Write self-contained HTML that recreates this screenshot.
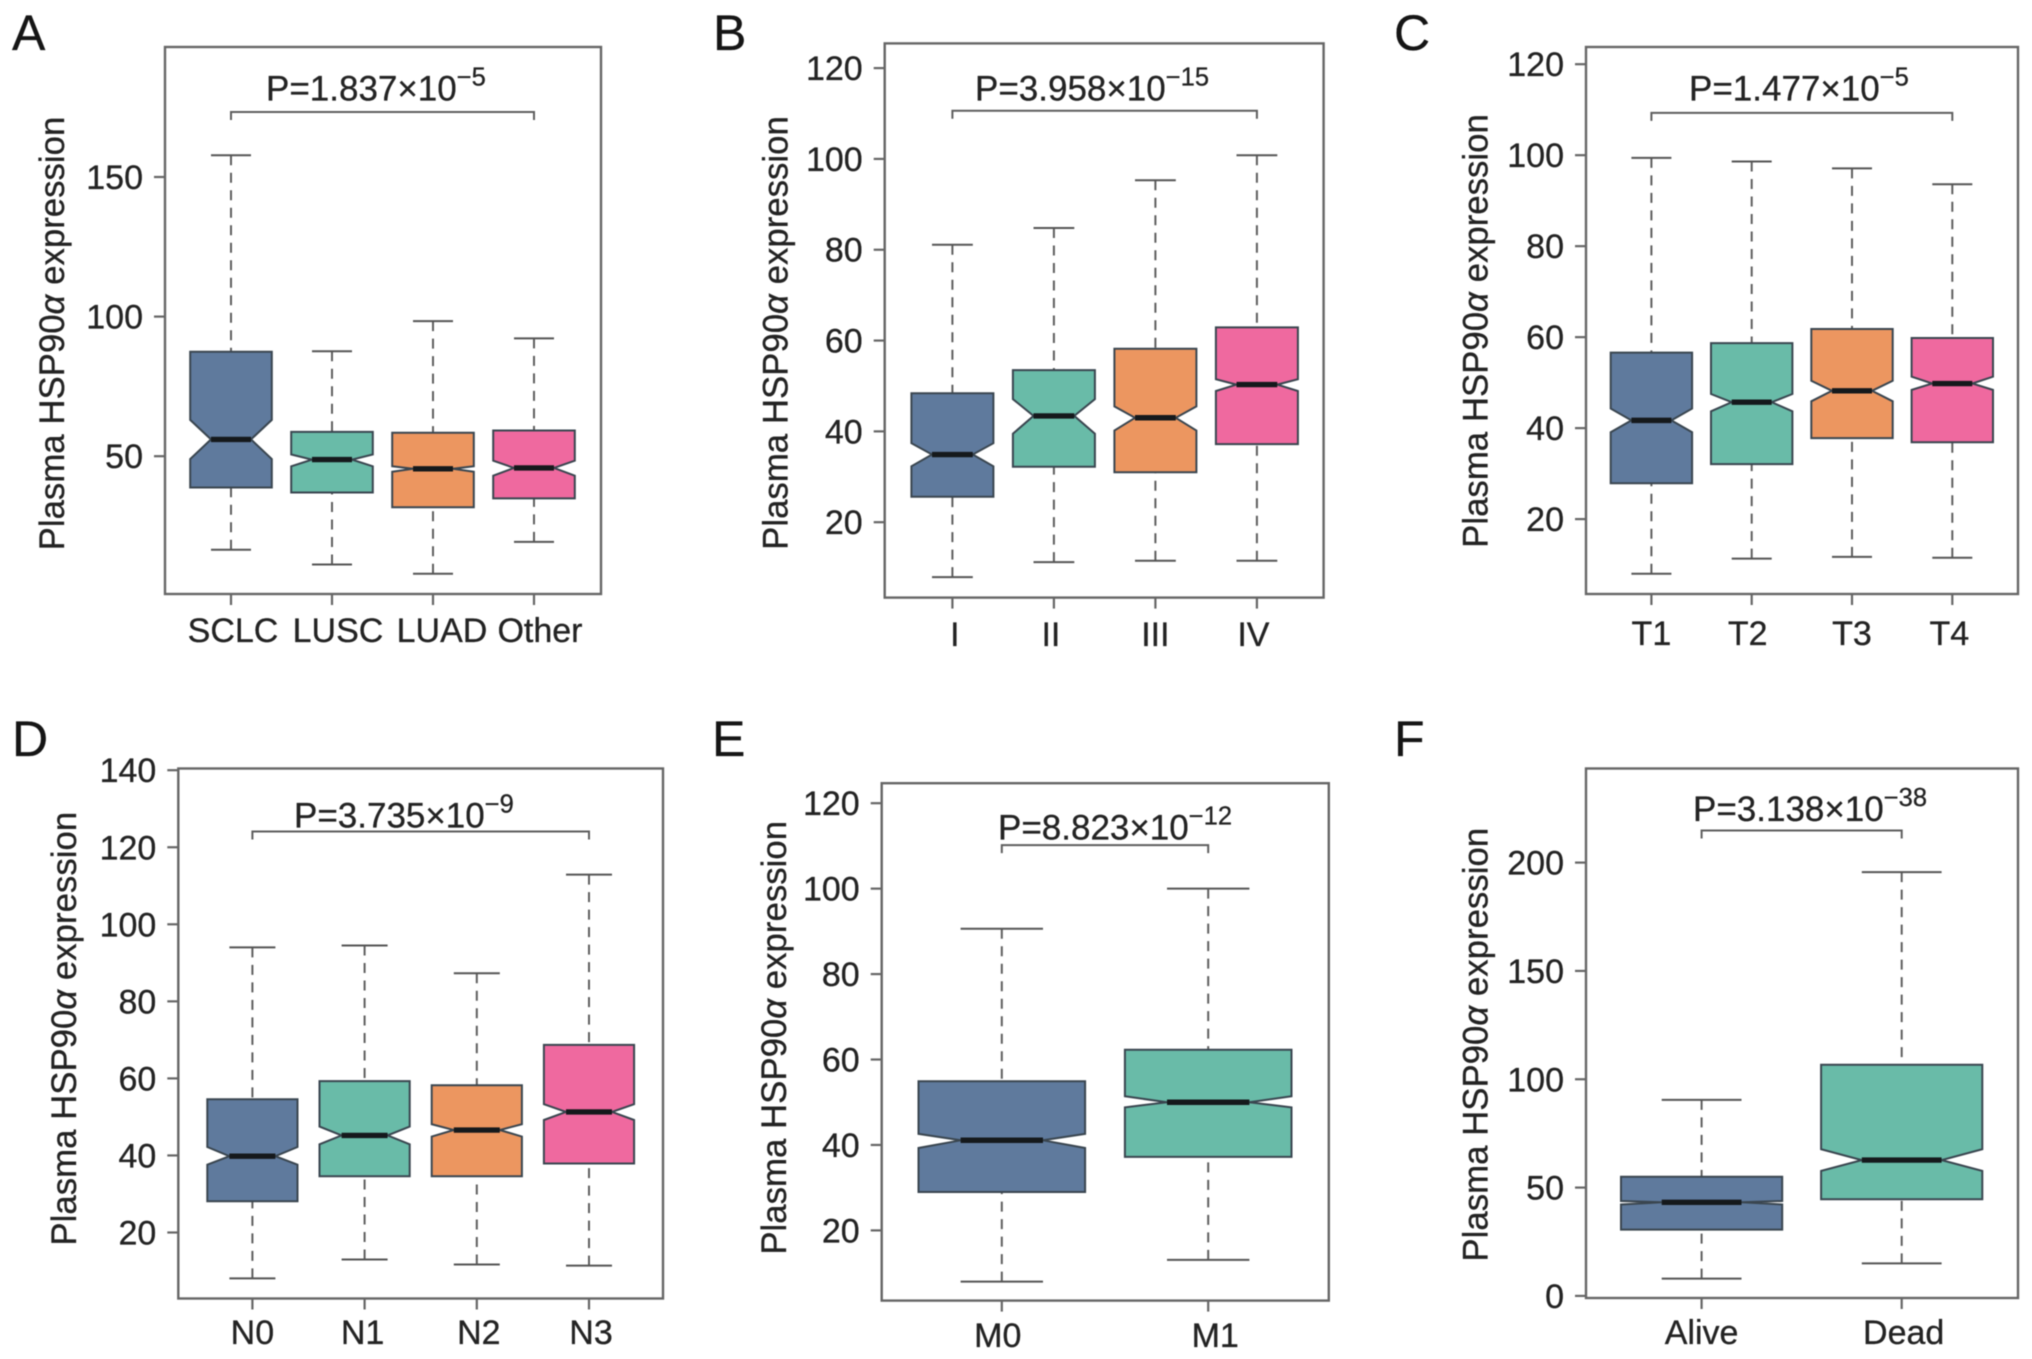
<!DOCTYPE html>
<html lang="en">
<head>
<meta charset="utf-8">
<title>Plasma HSP90α expression boxplots</title>
<style>
html,body{margin:0;padding:0;background:#fff;width:2032px;height:1359px;overflow:hidden}
svg{display:block;filter:blur(0.6px)}
text{font-family:"Liberation Sans",sans-serif;fill:#232323;stroke:#232323;stroke-width:0.3px}
.frame{fill:none;stroke:#666;stroke-width:2.4}
.letter{font-size:50px;fill:#151515;stroke:#151515}
.title{font-size:34.8px}
.pval{font-size:35px}
.sup{font-size:25.5px}
.tick-label{font-size:34px}
</style>
</head>
<body>
<svg id="fig" width="2032" height="1359" viewBox="0 0 2032 1359" xmlns="http://www.w3.org/2000/svg">
  <rect width="2032" height="1359" fill="#fff"/>

  <g id="panel-A">
    <text class="letter" x="12" y="50">A</text>
    <text class="title" text-anchor="middle" transform="translate(64,333.5) rotate(-90)">Plasma HSP90<tspan font-style="italic">α</tspan> expression</text>
    <text class="pval" x="266" y="100.6">P=1.837×10<tspan class="sup" dy="-15">−5</tspan></text>
  </g>
  <g id="panel-B">
    <text class="letter" x="713" y="50">B</text>
    <text class="title" text-anchor="middle" transform="translate(787.5,333) rotate(-90)">Plasma HSP90<tspan font-style="italic">α</tspan> expression</text>
    <text class="pval" x="975" y="100.6">P=3.958×10<tspan class="sup" dy="-15">−15</tspan></text>
  </g>
  <g id="panel-C">
    <text class="letter" x="1394" y="50">C</text>
    <text class="title" text-anchor="middle" transform="translate(1487.7,331) rotate(-90)">Plasma HSP90<tspan font-style="italic">α</tspan> expression</text>
    <text class="pval" x="1689" y="100.6">P=1.477×10<tspan class="sup" dy="-15">−5</tspan></text>
  </g>
  <g id="panel-D">
    <text class="letter" x="12" y="756">D</text>
    <text class="title" text-anchor="middle" transform="translate(76,1028.7) rotate(-90)">Plasma HSP90<tspan font-style="italic">α</tspan> expression</text>
    <text class="pval" x="294" y="827.5">P=3.735×10<tspan class="sup" dy="-15">−9</tspan></text>
  </g>
  <g id="panel-E">
    <text class="letter" x="712" y="756">E</text>
    <text class="title" text-anchor="middle" transform="translate(786,1037.8) rotate(-90)">Plasma HSP90<tspan font-style="italic">α</tspan> expression</text>
    <text class="pval" x="998" y="839.6">P=8.823×10<tspan class="sup" dy="-15">−12</tspan></text>
  </g>
  <g id="panel-F">
    <text class="letter" x="1394" y="756">F</text>
    <text class="title" text-anchor="middle" transform="translate(1487.7,1044.7) rotate(-90)">Plasma HSP90<tspan font-style="italic">α</tspan> expression</text>
    <text class="pval" x="1693" y="821">P=3.138×10<tspan class="sup" dy="-15">−38</tspan></text>
  </g>
</svg>

<script>
// Panel A: histology
const categoriesA = ['SCLC', 'LUSC', 'LUAD', 'Other'];
const whiskerHighA = [157.8, 87.6, 98.4, 92.2];
const q3A = [87.4, 58.7, 58.4, 59.2];
const notchHighA = [63, 50.6, 46.4, 48.4];
const medianA = [56, 48.8, 45.5, 45.8];
const notchLowA = [49, 46.4, 44.4, 43];
const q1A = [38.8, 37, 31.7, 34.9];
const whiskerLowA = [16.5, 11.2, 7.9, 19.3];
const ticksA = [50, 100, 150];
const bracketA = 173.3;

// Panel B: stage
const categoriesB = ['I', 'II', 'III', 'IV'];
const whiskerHighB = [81.1, 84.8, 95.3, 100.8];
const q3B = [48.4, 53.5, 58.2, 62.9];
const notchHighB = [37.4, 47.1, 45.5, 51.5];
const medianB = [34.9, 43.4, 43, 50.3];
const notchLowB = [32.3, 39.5, 40.2, 48.9];
const q1B = [25.6, 32.2, 31, 37.2];
const whiskerLowB = [7.9, 11.2, 11.5, 11.5];
const ticksB = [20, 40, 60, 80, 100, 120];
const bracketB = 110.6;

// Panel C: T stage
const categoriesC = ['T1', 'T2', 'T3', 'T4'];
const whiskerHighC = [99.4, 98.6, 97.1, 93.6];
const q3C = [56.6, 58.7, 61.8, 59.8];
const notchHighC = [44.3, 47.5, 50.4, 51.3];
const medianC = [41.7, 45.7, 48.2, 49.8];
const notchLowC = [39.1, 43.7, 45.9, 48.4];
const q1C = [27.9, 32.1, 37.8, 36.9];
const whiskerLowC = [8, 11.3, 11.7, 11.5];
const ticksC = [20, 40, 60, 80, 100, 120];
const bracketC = 109.3;

// Panel D: N stage
const categoriesD = ['N0', 'N1', 'N2', 'N3'];
const whiskerHighD = [94, 94.5, 87.3, 112.9];
const q3D = [54.6, 59.3, 58.2, 68.7];
const notchHighD = [42.2, 47.5, 48.1, 53.3];
const medianD = [39.8, 45.2, 46.6, 51.3];
const notchLowD = [37.6, 42.9, 44.9, 49.2];
const q1D = [28.1, 34.6, 34.6, 37.9];
const whiskerLowD = [8.1, 13, 11.7, 11.4];
const ticksD = [20, 40, 60, 80, 100, 120, 140];
const bracketD = 124.1;

// Panel E: M stage
const categoriesE = ['M0', 'M1'];
const whiskerHighE = [90.6, 100];
const q3E = [54.9, 62.3];
const notchHighE = [42.6, 51.4];
const medianE = [41.1, 50];
const notchLowE = [39.3, 48.8];
const q1E = [29, 37.2];
const whiskerLowE = [8, 13.1];
const ticksE = [20, 40, 60, 80, 100, 120];
const bracketE = 110.2;

// Panel F: survival
const categoriesF = ['Alive', 'Dead'];
const whiskerHighF = [90.5, 195.6];
const q3F = [55, 106.7];
const notchHighF = [43.8, 67.7];
const medianF = [43.2, 62.7];
const notchLowF = [42.2, 57.7];
const q1F = [30.6, 44.6];
const whiskerLowF = [8, 15];
const ticksF = [0, 50, 100, 150, 200];
const bracketF = 214.8;

const boxColors = ['#5f7a9d', '#69bba8', '#ec9660', '#ef699f'];

const SVGNS = 'http://www.w3.org/2000/svg';
function make(parent, tag, attrs, name) {
  const el = document.createElementNS(SVGNS, tag);
  for (const k in attrs) el.setAttribute(k, attrs[k]);
  
  
  parent.appendChild(el);
  return el;
}

function drawPanel(cfg) {
  const g = document.getElementById('panel-' + cfg.id);
  const id = cfg.id.toLowerCase();
  const yScale = v => cfg.y1 + (v - cfg.v1) * (cfg.y2 - cfg.y1) / (cfg.v2 - cfg.v1);
  const xScale = i => cfg.x0 + i * cfg.step;

  make(g, 'rect', {class: 'frame', x: cfg.left, y: cfg.top, width: cfg.right - cfg.left, height: cfg.bottom - cfg.top}, 'plot-frame-' + id);

  cfg.ticks.forEach(t => {
    const y = yScale(t);
    make(g, 'line', {x1: cfg.left - 11, x2: cfg.left, y1: y, y2: y, stroke: '#666', 'stroke-width': 2.2}, 'y-tick-' + id + '-' + t);
    const lab = make(g, 'text', {class: 'tick-label', x: cfg.left - 22, y: y + 12, 'text-anchor': 'end'}, 'y-tick-label-' + id + '-' + t);
    lab.textContent = String(t);
  });

  cfg.categories.forEach((c, i) => {
    const x = xScale(i);
    const key = id + '-' + c.toLowerCase();
    const col = boxColors[i];
    make(g, 'line', {x1: x, x2: x, y1: cfg.bottom, y2: cfg.bottom + 11, stroke: '#666', 'stroke-width': 2.2}, 'x-tick-' + key);
    const lab = make(g, 'text', {class: 'tick-label', x: x + cfg.labelShift[i], y: cfg.labelBase, 'text-anchor': 'middle'}, 'x-tick-label-' + key);
    lab.textContent = c;

    const dash = {stroke: '#5e5e5e', 'stroke-width': 2, 'stroke-dasharray': '10 7.5'};
    make(g, 'line', Object.assign({x1: x, x2: x, y1: yScale(cfg.hi[i]), y2: yScale(cfg.q3[i])}, dash), 'whisker-upper-' + key);
    make(g, 'line', Object.assign({x1: x, x2: x, y1: yScale(cfg.lo[i]), y2: yScale(cfg.q1[i])}, dash), 'whisker-lower-' + key);
    make(g, 'line', {x1: x - cfg.sw, x2: x + cfg.sw, y1: yScale(cfg.hi[i]), y2: yScale(cfg.hi[i]), stroke: '#555', 'stroke-width': 2}, 'staple-upper-' + key);
    make(g, 'line', {x1: x - cfg.sw, x2: x + cfg.sw, y1: yScale(cfg.lo[i]), y2: yScale(cfg.lo[i]), stroke: '#555', 'stroke-width': 2}, 'staple-lower-' + key);

    const T = yScale(cfg.q3[i]), B = yScale(cfg.q1[i]), M = yScale(cfg.med[i]);
    const NU = yScale(cfg.nh[i]), NL = yScale(cfg.nl[i]);
    const L = x - cfg.hw, R = x + cfg.hw, l = x - cfg.sw, r = x + cfg.sw;
    const pts = [[L, T], [R, T], [R, NU], [r, M], [R, NL], [R, B], [L, B], [L, NL], [l, M], [L, NU]]
      .map(p => p[0].toFixed(1) + ',' + p[1].toFixed(1)).join(' ');
    make(g, 'polygon', {points: pts, fill: col, stroke: '#3a4650', 'stroke-width': 2, 'stroke-linejoin': 'miter'}, 'box-' + key);
    make(g, 'line', {x1: l, x2: r, y1: M, y2: M, stroke: '#15191c', 'stroke-width': 5.4}, 'median-' + key);
  });

  const by = yScale(cfg.bracket);
  const bx1 = xScale(0), bx2 = xScale(cfg.categories.length - 1);
  make(g, 'polyline', {points: bx1 + ',' + (by + 8) + ' ' + bx1 + ',' + by + ' ' + bx2 + ',' + by + ' ' + bx2 + ',' + (by + 8), fill: 'none', stroke: '#5e5e5e', 'stroke-width': 2}, 'significance-bracket-' + id);
}

drawPanel({id: 'A', left: 165, right: 601, top: 47, bottom: 594, v1: 150, y1: 177, v2: 50, y2: 456.2,
  x0: 231, step: 101, hw: 40.8, sw: 20, labelShift: [2, 6, 9, 6], labelBase: 642,
  categories: categoriesA, hi: whiskerHighA, q3: q3A, nh: notchHighA, med: medianA, nl: notchLowA, q1: q1A, lo: whiskerLowA, ticks: ticksA, bracket: bracketA});
drawPanel({id: 'B', left: 884.7, right: 1323.6, top: 43.4, bottom: 597.6, v1: 120, y1: 68.1, v2: 20, y2: 522.2,
  x0: 952.4, step: 101.5, hw: 41, sw: 20.4, labelShift: [2.5, -3, 0, -3.5], labelBase: 646,
  categories: categoriesB, hi: whiskerHighB, q3: q3B, nh: notchHighB, med: medianB, nl: notchLowB, q1: q1B, lo: whiskerLowB, ticks: ticksB, bracket: bracketB});
drawPanel({id: 'C', left: 1586, right: 2018, top: 47, bottom: 594, v1: 120, y1: 64.2, v2: 20, y2: 519.1,
  x0: 1651.4, step: 100.3, hw: 40.7, sw: 20, labelShift: [0, -4, 0, -3], labelBase: 645,
  categories: categoriesC, hi: whiskerHighC, q3: q3C, nh: notchHighC, med: medianC, nl: notchLowC, q1: q1C, lo: whiskerLowC, ticks: ticksC, bracket: bracketC});
drawPanel({id: 'D', left: 178.3, right: 663, top: 768.5, bottom: 1298.5, v1: 140, y1: 770.2, v2: 20, y2: 1232.5,
  x0: 252.4, step: 112.2, hw: 45.1, sw: 23, labelShift: [0, -2, 2, 2], labelBase: 1344,
  categories: categoriesD, hi: whiskerHighD, q3: q3D, nh: notchHighD, med: medianD, nl: notchLowD, q1: q1D, lo: whiskerLowD, ticks: ticksD, bracket: bracketD});
drawPanel({id: 'E', left: 881.7, right: 1328.8, top: 783.2, bottom: 1300.6, v1: 120, y1: 803.2, v2: 20, y2: 1230.4,
  x0: 1001.8, step: 206.4, hw: 83.3, sw: 41.2, labelShift: [-4, 7], labelBase: 1347,
  categories: categoriesE, hi: whiskerHighE, q3: q3E, nh: notchHighE, med: medianE, nl: notchLowE, q1: q1E, lo: whiskerLowE, ticks: ticksE, bracket: bracketE});
drawPanel({id: 'F', left: 1586, right: 2018, top: 768.5, bottom: 1298, v1: 200, y1: 862.6, v2: 0, y2: 1295.9,
  x0: 1701.6, step: 200.1, hw: 80.6, sw: 39.9, labelShift: [0, 2], labelBase: 1344,
  categories: categoriesF, hi: whiskerHighF, q3: q3F, nh: notchHighF, med: medianF, nl: notchLowF, q1: q1F, lo: whiskerLowF, ticks: ticksF, bracket: bracketF});
</script>
</body>
</html>
